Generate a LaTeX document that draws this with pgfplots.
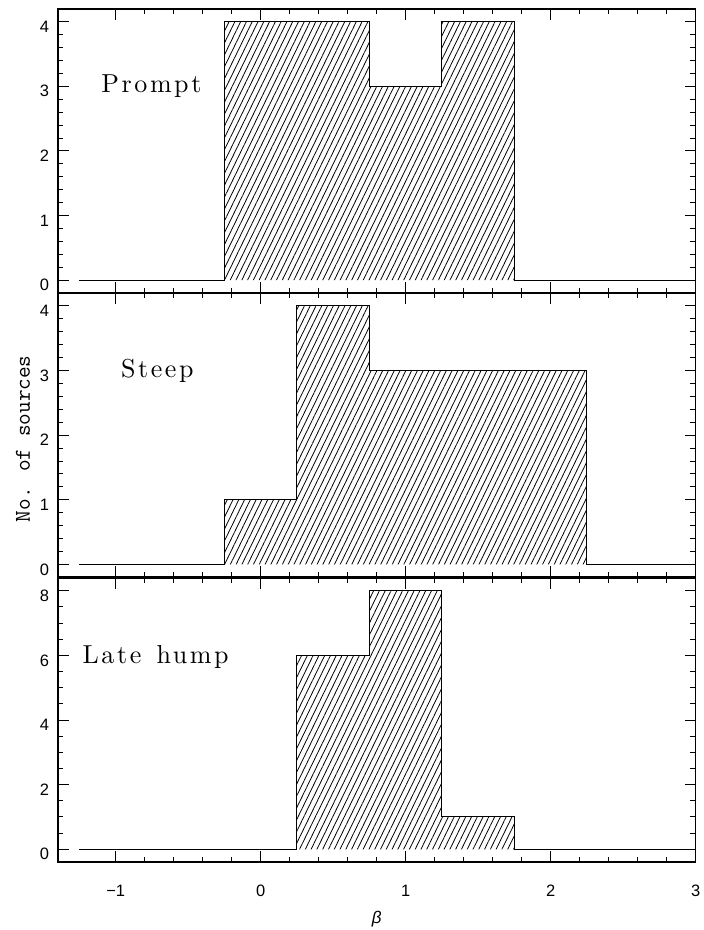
\documentclass[border=0pt]{standalone}
\usepackage{fontspec}
\usepackage{pgfplots}
\pgfplotsset{compat=1.18}
\usetikzlibrary{patterns.meta}
\newfontfamily\hel{Liberation Sans}
\newfontfamily\pfont{lmroman10-regular.otf}[LetterSpace=10]
\newcommand\panelfont{\pfont\fontsize{26}{30}\selectfont}
\pgfplotsset{
  panel/.style={
    scale only axis, width=638.3pt, height=284.6pt, anchor=south west,
    xmin=-1.4, xmax=3.0, clip=false,
    xtick={-1,0,1,2,3}, minor x tick num=4,
    tick align=inside, major tick length=11pt, minor tick length=5.5pt,
    tick style={black, line width=0.9pt},
    axis line style={line width=1.8pt},
    tick label style={font=\hel\fontsize{16.5}{19}\selectfont},
    /pgf/number format/assume math mode=true,
    yticklabel style={xshift=-5pt, yshift=-5pt},
    xticklabel style={yshift=-19pt},
  },
  hatch/.style={const plot, draw=none, pattern={Lines[angle=64, distance=5.2pt, line width=0.8pt]}},
  outline/.style={const plot, black, line width=0.9pt},
}
\begin{document}
\begin{tikzpicture}
\path (0pt,0pt) rectangle (698pt,930pt);
% Panel 1: Prompt
\begin{axis}[panel, at={(57.7pt,636.7pt)}, ymin=-0.2, ymax=4.2, ytick={0,1,2,3,4}, minor y tick num=4, xticklabels={}]
\addplot[hatch] coordinates {(-0.25,4) (0.25,4) (0.75,3) (1.25,4) (1.75,4)} \closedcycle;
\addplot[outline] coordinates {(-1.25,0) (-0.25,4) (0.25,4) (0.75,3) (1.25,4) (1.75,0) (3.0,0)};
\node[anchor=base west, font=\panelfont] at (axis cs:-1.123,2.90) {Prompt};
\end{axis}
% Panel 2: Steep
\begin{axis}[panel, at={(57.7pt,352.3pt)}, ymin=-0.2, ymax=4.2, ytick={0,1,2,3,4}, minor y tick num=4, xticklabels={}]
\addplot[hatch] coordinates {(-0.25,1) (0.25,4) (0.75,3) (1.25,3) (1.75,3) (2.25,3)} \closedcycle;
\addplot[outline] coordinates {(-1.25,0) (-0.25,1) (0.25,4) (0.75,3) (1.25,3) (1.75,3) (2.25,0) (3.0,0)};
\node[anchor=base west, font=\panelfont] at (axis cs:-0.987,2.884) {Steep};
\end{axis}
% Panel 3: Late hump
\begin{axis}[panel, at={(57.7pt,67.3pt)}, ymin=-0.4, ymax=8.4, ytick={0,2,4,6,8}, minor y tick num=3, xticklabels={−1,0,1,2,3}]
\addplot[hatch] coordinates {(0.25,6) (0.75,8) (1.25,1) (1.75,1)} \closedcycle;
\addplot[outline] coordinates {(-1.25,0) (0.25,6) (0.75,8) (1.25,1) (1.75,0) (3.0,0)};
\node[anchor=base west, font=\panelfont] at (axis cs:-1.252,5.75) {Late\hspace{4pt} hump};
\node[anchor=base, font=\hel\itshape\fontsize{17}{20}\selectfont, yshift=-61pt] at (rel axis cs:0.5,0) {β};
\end{axis}
\node[rotate=90, anchor=base, font=\ttfamily\fontsize{22.6}{27}\selectfont] at (30pt,491pt) {No. of sources};
\end{tikzpicture}
\end{document}
